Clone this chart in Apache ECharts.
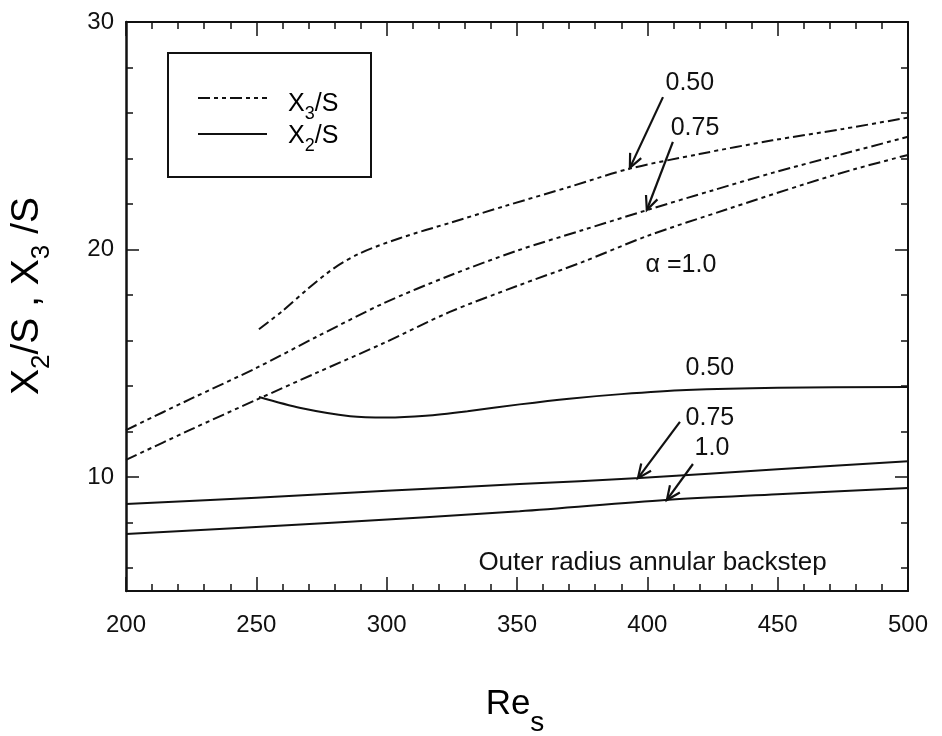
<!DOCTYPE html>
<html>
<head>
<meta charset="utf-8">
<script src="https://cdn.jsdelivr.net/npm/echarts@6/dist/echarts.min.js"></script>
<style>
  html, body { margin: 0; background: #fff; }
  #chart { width: 942px; height: 736px; }
</style>
</head>
<body>
<div id="chart"></div>
<script>
// values: [Re_s, X/S]
var x3Alpha050 = [[251,16.5],[260,17.3],[270,18.3],[280,19.2],[290,19.85],[305,20.5],[325,21.2],[345,21.9],[370,22.75],[393,23.55],[420,24.2],[448,24.8],[475,25.3],[500,25.8]];
var x3Alpha075 = [[200,12.07],[225,13.45],[250,14.8],[273,16.16],[299,17.65],[324,18.85],[350,19.95],[375,20.85],[400,21.74],[425,22.6],[448,23.37],[475,24.2],[500,24.96]];
var x3Alpha100 = [[200,10.76],[225,12.1],[250,13.4],[273,14.58],[299,15.9],[324,17.25],[350,18.4],[375,19.45],[400,20.6],[430,21.75],[461,22.9],[480,23.55],[500,24.16]];
var x2Alpha050 = [[251,13.52],[267,13.04],[286,12.68],[300,12.62],[315,12.7],[331,12.9],[351,13.2],[370,13.45],[390,13.65],[415,13.83],[450,13.93],[500,13.96]];
var x2Alpha075 = [[200,8.82],[250,9.1],[300,9.4],[351,9.7],[397,9.96],[450,10.35],[500,10.7]];
var x2Alpha100 = [[200,7.5],[279,8.0],[351,8.5],[407,9.0],[450,9.25],[500,9.53]];

var yMajor = [10, 20, 30];
var yMinor = [6, 8, 12, 14, 16, 18, 22, 24, 26, 28];

// annotations in data coords
var labels = [
  [416.3, 27.32, '0.50'], [418.3, 25.34, '0.75'], [412.9, 19.32, 'α =1.0'],
  [424, 14.8, '0.50'], [424, 12.6, '0.75'], [424.8, 11.28, '1.0']
];
var arrows = [
  [[406.0, 26.7], [393.3, 23.59]],
  [[409.8, 24.73], [399.8, 21.74]],
  [[412.5, 12.43], [396.4, 9.96]],
  [[417.5, 10.58], [407.5, 9.0]]
];
var note = [402, 6.23, 'Outer radius annular backstep'];

var ink = '#111';
var font = '"Liberation Sans", Arial, Helvetica, sans-serif';
var dashDotDot = [12, 4, 4, 4, 4, 4];

var chart = echarts.init(document.getElementById('chart'), null, { renderer: 'canvas' });

function xAx(pos, showLabel) {
  return {
    type: 'value', position: pos, min: 200, max: 500, interval: 50,
    axisLine: { lineStyle: { color: ink, width: 2 } },
    axisTick: { inside: true, length: 14, lineStyle: { color: ink, width: 1.5 } },
    minorTick: { show: true, splitNumber: 5, length: 7, lineStyle: { color: ink, width: 1.5 } },
    axisLabel: { show: showLabel, fontFamily: font, fontSize: 24, color: ink, margin: 22 },
    splitLine: { show: false }
  };
}
function yAx(pos, values, len, showLine, showLabel) {
  return {
    type: 'value', position: pos, min: 5, max: 30,
    axisLine: { show: showLine, lineStyle: { color: ink, width: pos === 'left' ? 2.5 : 2 } },
    axisTick: { inside: true, length: len, customValues: values, lineStyle: { color: ink, width: 1.5 } },
    axisLabel: { show: showLabel, customValues: values, fontFamily: font, fontSize: 24, color: ink, margin: 12 },
    splitLine: { show: false }
  };
}
function line(data, dashed) {
  return {
    type: 'line', data: data, showSymbol: false, symbol: 'none',
    smooth: 0.3, silent: true,
    lineStyle: { color: ink, width: 2, type: dashed ? dashDotDot : 'solid' }
  };
}

chart.setOption({
  animation: false,
  backgroundColor: '#fff',
  grid: { left: 126, right: 34, top: 22, bottom: 145 },
  xAxis: [xAx('bottom', true), xAx('top', false)],
  yAxis: [
    yAx('left', yMajor, 13, true, true),
    yAx('left', yMinor, 7, false, false),
    yAx('right', yMajor, 13, true, false),
    yAx('right', yMinor, 7, false, false)
  ],
  series: [
    line(x3Alpha050, true), line(x3Alpha075, true), line(x3Alpha100, true),
    line(x2Alpha050, false), line(x2Alpha075, false), line(x2Alpha100, false)
  ]
});

function px(p) { return chart.convertToPixel({ xAxisIndex: 0, yAxisIndex: 0 }, p); }

var mainRich = function (size, sub, pad) {
  return {
    m: { fontFamily: font, fontSize: size, color: ink, verticalAlign: 'top' },
    s: { fontFamily: font, fontSize: sub, color: ink, verticalAlign: 'top', padding: [pad, 0, 0, 0] }
  };
};

var g = [];
// legend box
g.push({ type: 'rect', shape: { x: 168, y: 53, width: 203, height: 124 }, style: { fill: '#fff', stroke: ink, lineWidth: 2 }, z: 10 });
g.push({ type: 'line', shape: { x1: 198, y1: 98, x2: 267, y2: 98 }, style: { stroke: ink, lineWidth: 2, lineDash: dashDotDot }, z: 11 });
g.push({ type: 'line', shape: { x1: 198, y1: 134, x2: 267, y2: 134 }, style: { stroke: ink, lineWidth: 2 }, z: 11 });
g.push({ type: 'text', x: 288, y: 92, z: 11, style: { text: '{m|X}{s|3}{m|/S}', rich: mainRich(25, 18, 13), verticalAlign: 'top' } });
g.push({ type: 'text', x: 288, y: 124, z: 11, style: { text: '{m|X}{s|2}{m|/S}', rich: mainRich(25, 18, 13), verticalAlign: 'top' } });

// axis titles
g.push({ type: 'text', x: 31, y: 296, rotation: Math.PI / 2, style: { text: '{m|X}{s|2}{m|/S , X}{s|3}{m| /S}', rich: mainRich(39, 26, 21), align: 'center', verticalAlign: 'middle' } });
g.push({ type: 'text', x: 515, y: 687, style: { text: '{m|Re}{s|s}', rich: mainRich(35, 28, 22), align: 'center', verticalAlign: 'top' } });

labels.forEach(function (l) {
  var p = px([l[0], l[1]]);
  g.push({ type: 'text', x: p[0], y: p[1], style: { text: l[2], fontFamily: font, fontSize: 25, fill: ink, align: 'center', verticalAlign: 'middle' } });
});
var np = px([note[0], note[1]]);
g.push({ type: 'text', x: np[0], y: np[1], style: { text: note[2], fontFamily: font, fontSize: 26, fill: ink, align: 'center', verticalAlign: 'middle' } });

arrows.forEach(function (a) {
  var s = px(a[0]), t = px(a[1]);
  var ang = Math.atan2(s[1] - t[1], s[0] - t[0]);
  var len = 15, spread = 0.42;
  g.push({ type: 'line', shape: { x1: s[0], y1: s[1], x2: t[0], y2: t[1] }, style: { stroke: ink, lineWidth: 2.2 } });
  g.push({ type: 'polyline', shape: { points: [
    [t[0] + len * Math.cos(ang + spread), t[1] + len * Math.sin(ang + spread)],
    [t[0], t[1]],
    [t[0] + len * Math.cos(ang - spread), t[1] + len * Math.sin(ang - spread)]
  ] }, style: { stroke: ink, lineWidth: 2.2, fill: null } });
});

chart.setOption({ graphic: g });
window.addEventListener('resize', function () { chart.resize(); });
</script>
</body>
</html>
